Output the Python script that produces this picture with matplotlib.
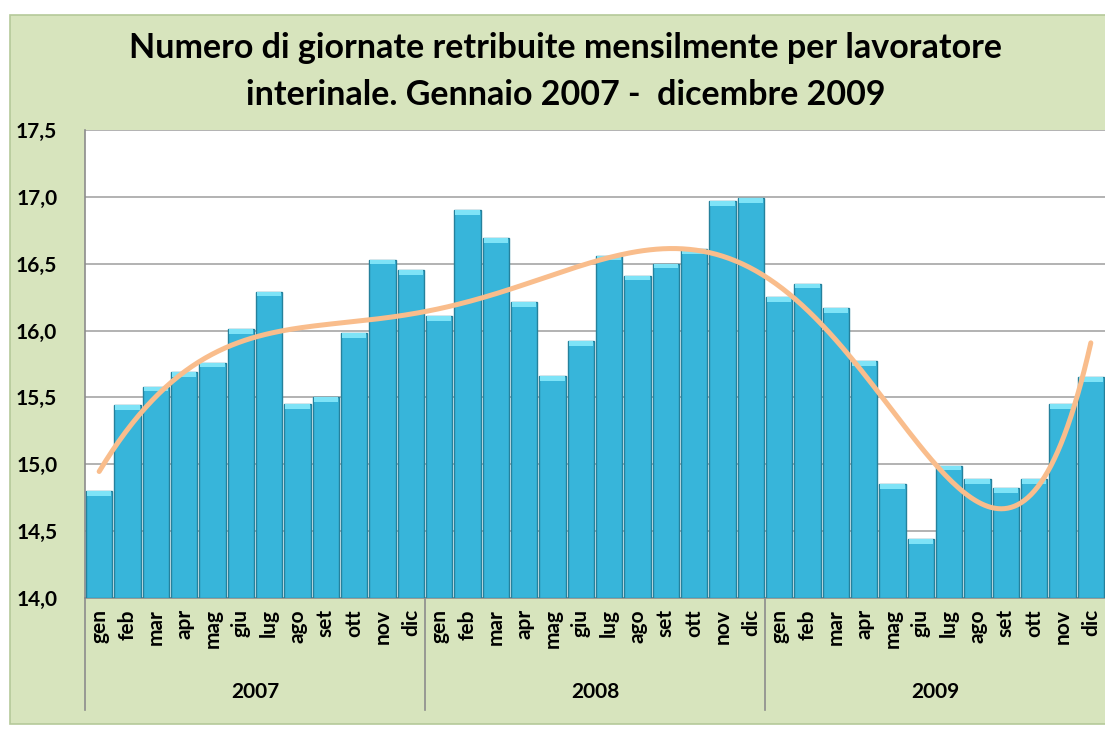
import numpy as np
import matplotlib
matplotlib.use("Agg")
import matplotlib.pyplot as plt
from matplotlib.patches import Rectangle

# dati (giornate retribuite per lavoratore interinale)
years = ["2007", "2008", "2009"]
months = ["gen", "feb", "mar", "apr", "mag", "giu",
          "lug", "ago", "set", "ott", "nov", "dic"]
val_2007 = [14.80, 15.44, 15.58, 15.69, 15.76, 16.01,
            16.29, 15.45, 15.50, 15.98, 16.53, 16.45]
val_2008 = [16.11, 16.90, 16.69, 16.21, 15.66, 15.92,
            16.56, 16.41, 16.50, 16.61, 16.97, 16.99]
val_2009 = [16.25, 16.35, 16.17, 15.77, 14.85, 14.44,
            14.99, 14.89, 14.82, 14.89, 15.45, 15.65]

values = np.array(val_2007 + val_2008 + val_2009)
labels = months * len(years)
x = np.arange(len(values))

plt.rcParams["font.family"] = ["Lato", "DejaVu Sans"]

fig = plt.figure(figsize=(11.05, 7.29), dpi=100)
fig.patch.set_facecolor("white")
# sfondo area grafico
fig.add_artist(Rectangle((10 / 1105, 5 / 729), 1.0, 1 - 20 / 729,
                         transform=fig.transFigure, facecolor="#d7e4bd",
                         edgecolor="#b5c99a", linewidth=1.2, zorder=-10))

ax = fig.add_axes([85 / 1105, 1 - 598 / 729, 1020 / 1105, 468 / 729])
ax.set_facecolor("white")

ax.bar(x, values - 14.0, bottom=14.0, width=0.94, color="#37b5da",
       edgecolor="#25819c", linewidth=1.0, zorder=3)
# bordo chiaro in cima alle barre
ax.bar(x, 0.035, bottom=values - 0.035, width=0.86, color="#7ee3f7",
       linewidth=0, zorder=4)

# linea di tendenza polinomiale (come in Excel)
coef = np.polyfit(x, values, 6)
xs = np.linspace(0, len(values) - 1, 300)
ax.plot(xs, np.polyval(coef, xs), color="#f9bd8c", linewidth=3.6,
        solid_capstyle="round", zorder=5)

ax.set_xlim(-0.5, len(values) - 0.5)
ax.set_ylim(14.0, 17.5)
ax.set_yticks(np.arange(14.0, 17.51, 0.5))
ax.set_yticklabels([f"{v:.1f}".replace(".", ",") for v in np.arange(14.0, 17.51, 0.5)],
                   fontsize=15, fontweight="bold")
ax.yaxis.grid(True, color="#a6a6a6", linewidth=1.2, zorder=0)
ax.set_axisbelow(True)

ax.set_xticks(x)
ax.set_xticklabels(labels, rotation=90, fontsize=15, fontweight="bold")
ax.tick_params(axis="x", length=0, pad=8)
ax.tick_params(axis="y", length=0, pad=20)

for s in ["top", "right"]:
    ax.spines[s].set_visible(False)
ax.spines["left"].set_color("#8c8c8c")
ax.spines["bottom"].set_color("#8c8c8c")
ax.spines["left"].set_linewidth(1.2)
ax.spines["bottom"].set_linewidth(1.2)

# separatori e etichette degli anni
trans = ax.get_xaxis_transform()
for i, yr in enumerate(years):
    x0 = i * 12 - 0.5
    ax.plot([x0, x0], [0, -0.24], color="#8c8c8c", linewidth=1.2,
            transform=trans, clip_on=False)
    ax.text(x0 + 6, -0.20, yr, transform=trans, ha="center", va="center",
            fontsize=15, fontweight="bold")

fig.text(0.512, 1 - 48 / 729, "Numero di giornate retribuite mensilmente per lavoratore",
         ha="center", va="center", fontsize=24.5, fontweight="bold")
fig.text(0.512, 1 - 95 / 729, "interinale. Gennaio 2007 -  dicembre 2009",
         ha="center", va="center", fontsize=24.5, fontweight="bold")

fig.savefig("out.png", dpi=100, facecolor=fig.get_facecolor())
